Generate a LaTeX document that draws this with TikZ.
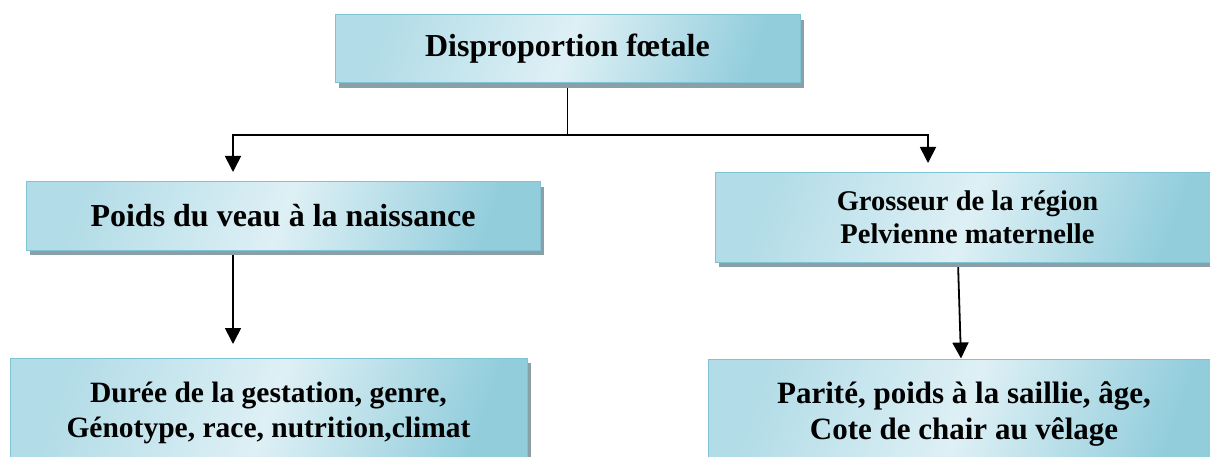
\documentclass[tikz,border=0pt]{standalone}
\usepackage{fontspec}
\setmainfont{Liberation Serif}
\usetikzlibrary{arrows.meta,shadows,backgrounds}
\definecolor{boxdark}{RGB}{146,205,220}
\definecolor{boxmid}{RGB}{178,220,231}
\definecolor{boxlight}{RGB}{222,240,245}
\definecolor{boxedge}{RGB}{128,195,212}
\definecolor{boxshadow}{RGB}{138,160,166}
\begin{document}
\begin{tikzpicture}[x=1pt,y=-1pt,
  box/.style={draw=boxedge, line width=1pt, left color=boxmid, right color=boxdark,
    middle color=boxlight, shading angle=70,
    drop shadow={shadow xshift=4pt, shadow yshift=-5pt, fill=boxshadow, opacity=1},
    align=center, inner sep=0pt},
  conn/.style={line width=1.8pt, draw=black},
  arr/.style={conn, -{Triangle[width=16pt,length=16pt]}}]
\useasboundingbox (0,0) rectangle (1210,457);
\node[box, minimum width=465pt, minimum height=68pt,
  font=\bfseries\fontsize{32}{37}\selectfont] (T) at (567.5,49) {Disproportion fœtale};
\node[box, minimum width=514pt, minimum height=68pt,
  font=\bfseries\fontsize{32}{37}\selectfont] (A) at (283,216) {Poids du veau à la naissance};
\node[box, minimum width=505pt, minimum height=89pt,
  font=\bfseries\fontsize{28.5}{33}\selectfont] (B) at (967.5,217.5) {Grosseur de la région\\Pelvienne maternelle};
\node[box, minimum width=517pt, minimum height=110pt,
  font=\bfseries\fontsize{29.5}{35}\selectfont] (C) at (268.5,413) {Durée de la gestation, genre,\\Génotype, race, nutrition,climat};
\node[box, minimum width=512pt, minimum height=110pt,
  font=\bfseries\fontsize{31}{36}\selectfont] (D) at (964,414) {Parité, poids à la saillie, âge,\\Cote de chair au vêlage};
\coordinate (j) at (567.5,135);
\coordinate (tl) at (233,172);
\coordinate (tr) at (928,163);
\coordinate (tA) at (233,344);
\begin{scope}[on background layer]
\draw[conn] (T.south) -- (j);
\draw[arr] (j) -| (tl);
\draw[arr] (j) -| (tr);
\draw[arr] (A.south -| tA) -- (tA);
\draw[arr] ([xshift=-9.5pt]B.south) -- ([xshift=-3pt]D.north);
\end{scope}
\end{tikzpicture}
\end{document}
